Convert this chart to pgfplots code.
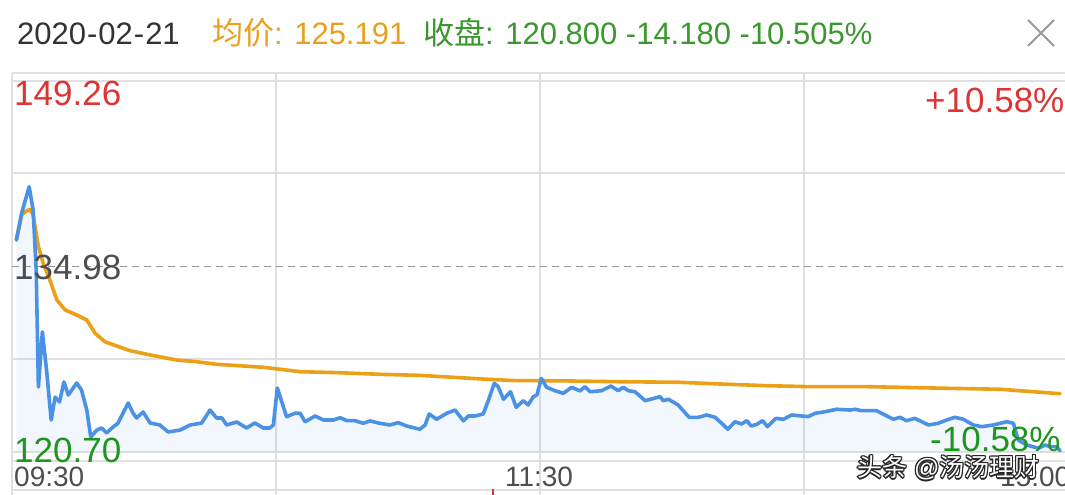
\documentclass[border=0pt]{standalone}
\usepackage{pgfplots}
\pgfplotsset{compat=1.18}
\usepackage{pgfplotstable}
\usepackage{fontspec}
\setmainfont{Liberation Sans}
\newfontfamily\cjk{Noto Sans CJK SC}

\definecolor{priceblue}{RGB}{76,146,228}
\definecolor{avgorange}{RGB}{236,160,22}
\definecolor{gridgray}{RGB}{224,224,224}
\definecolor{upred}{RGB}{222,52,52}
\definecolor{downgreen}{RGB}{28,150,28}
\definecolor{hdrgreen}{RGB}{58,152,46}
\definecolor{hdrorange}{RGB}{232,160,30}
\definecolor{textdark}{RGB}{51,51,51}
\definecolor{midgray}{RGB}{78,78,78}
\definecolor{dashgray}{RGB}{150,150,150}

% minute of the session (0 = 09:30, 120 = 11:30/13:00, 240 = 15:00) and last price
\pgfplotstableread{
m p
1.0 137.02
2.2 139.10
3.9 141.12
4.8 139.33
5.5 134.71
6.0 125.70
6.9 129.94
7.9 126.86
8.9 123.16
9.8 124.93
10.8 124.55
11.8 126.09
12.8 125.09
14.7 126.01
15.8 125.47
17.0 123.93
17.9 121.86
19.3 122.39
20.4 122.55
21.5 122.16
22.7 122.55
24.1 122.93
26.4 124.47
27.5 123.70
28.3 123.32
29.8 123.78
31.4 122.93
33.6 122.78
35.5 122.24
38.2 122.39
40.5 122.78
43.1 122.93
45.0 123.93
46.5 123.32
47.7 123.32
48.8 122.78
51.1 123.01
53.3 122.55
55.2 122.93
57.1 122.55
58.6 122.55
59.4 122.78
60.3 125.63
62.4 123.42
64.3 123.68
65.5 123.68
66.6 123.03
68.9 123.47
70.8 123.16
73.0 123.16
74.6 123.34
76.1 123.11
78.0 123.11
79.8 122.91
81.4 123.09
83.6 122.91
85.9 122.78
87.8 122.96
89.7 122.70
92.7 122.45
93.9 122.78
94.8 123.63
96.5 123.22
98.8 123.68
100.7 123.93
102.6 123.09
103.7 123.47
105.2 123.47
107.1 123.63
108.3 124.70
109.6 125.99
110.5 125.73
111.7 124.76
113.3 125.34
114.6 124.14
116.2 124.65
117.3 124.32
118.5 124.96
119.3 125.09
120.3 126.37
121.5 125.68
123.4 125.42
125.3 125.22
127.2 125.68
129.1 125.40
130.2 125.73
131.4 125.34
134.0 125.42
136.1 125.78
137.8 125.42
138.9 125.68
140.1 125.42
141.6 125.34
143.9 124.65
147.3 124.96
148.0 124.65
149.2 124.76
151.4 124.32
153.9 123.37
156.0 123.37
157.9 123.55
159.8 123.37
161.3 122.91
162.7 122.45
164.3 123.03
165.8 122.86
167.0 123.11
168.0 122.70
169.3 122.83
170.6 123.11
171.7 122.65
173.6 123.29
175.3 123.22
177.2 123.55
179.5 123.47
181.0 123.42
182.5 123.68
184.8 123.80
187.4 123.99
190.5 123.93
191.6 123.99
193.1 123.88
196.5 123.88
198.4 123.55
200.3 123.22
201.8 123.37
203.3 123.11
205.2 123.29
208.3 122.78
210.5 122.91
212.4 123.16
214.3 123.37
216.2 123.22
218.5 122.78
220.4 122.65
223.0 122.78
226.1 123.03
227.6 122.91
228.7 121.62
230.6 121.24
233.3 120.99
234.8 121.24
235.9 121.11
237.4 121.11
238.2 120.80
}\price

% running average price
\pgfplotstableread{
m p
1.0 137.02
2.2 138.94
3.0 139.20
4.1 139.38
4.8 138.94
6.0 136.50
7.1 135.23
8.6 133.94
10.2 132.40
12.1 131.63
14.7 131.25
17.0 130.86
18.9 129.84
21.1 129.19
23.8 128.86
26.8 128.50
31.4 128.17
37.4 127.78
42.0 127.65
46.5 127.45
52.6 127.32
57.1 127.22
60.9 127.07
65.5 126.88
73.8 126.81
83.6 126.68
92.7 126.60
100.3 126.45
107.9 126.30
114.7 126.19
120.0 126.19
126.4 126.17
137.8 126.11
151.4 126.07
160.5 125.94
171.9 125.80
181.4 125.73
194.3 125.73
213.2 125.60
224.6 125.53
232.1 125.34
238.2 125.19
}\avg

\newcommand{\wmark}{{\cjk 头条} @{\cjk 汤汤理财}}

\begin{document}
\begin{tikzpicture}[x=1pt,y=1pt]
\useasboundingbox (0,0) rectangle (1065,495);
\clip (0,0) rectangle (1065,495);
\fill[white] (0,0) rectangle (1065,495);

% header
\node[anchor=base west, inner sep=0, text=textdark, font=\fontsize{31}{36}\selectfont] at (17,450) {2020\kern1pt-\kern1pt02\kern1pt-\kern1pt21};
\node[anchor=base west, inner sep=0, text=hdrorange, font=\fontsize{31}{36}\selectfont] at (212,450) {{\cjk 均价}: 125.191};
\node[anchor=base west, inner sep=0, text=hdrgreen, font=\fontsize{31}{36}\selectfont] at (423,450) {{\cjk 收盘}: 120.800 -14.180 -10.505\%};
\draw[gray!80, line width=2pt] (1028,475) -- (1054,449) (1028,449) -- (1054,475);

% frame and grid
\begin{scope}[gridgray, line width=1.6pt]
  \draw (12,422) -- (1065,422);
  \draw (12,34) -- (1065,34);
  \draw (12,5) -- (1065,5);
  \draw (12,0) -- (12,422);
  \foreach \gx in {276,540,804} \draw (\gx,0) -- (\gx,422);
  \foreach \gy in {414,322,136,43} \draw (12,\gy) -- (1065,\gy);
\end{scope}
\draw[upred, line width=2pt] (493,0) -- (493,6);

\begin{axis}[at={(12pt,43pt)}, anchor=south west, scale only axis,
  width=1056pt, height=371pt,
  xmin=0, xmax=240, ymin=120.70, ymax=149.26,
  hide axis, clip=true]
  \addplot[draw=none, fill=priceblue, fill opacity=0.07] table[x=m, y=p] {\price} \closedcycle;
  \draw[dashgray, line width=1.5pt, dash pattern=on 7pt off 5pt] (axis cs:0,134.98) -- (axis cs:240,134.98);
  \addplot[avgorange, line width=3.6pt, line join=round, line cap=round] table[x=m, y=p] {\avg};
  \addplot[priceblue, line width=3.6pt, line join=round, line cap=round] table[x=m, y=p] {\price};
\end{axis}

% price scale labels
\begin{scope}[every node/.style={anchor=base west, inner sep=0, font=\fontsize{35}{40}\selectfont}]
  \node[text=upred] at (14,389) {149.26};
  \node[text=upred] at (925,382) {+10.58\%};
  \node[text=midgray] at (14,215) {134.98};
  \node[text=downgreen] at (14,32) {120.70};
  \node[text=downgreen] at (930,43) {-10.58\%};
\end{scope}

% time labels
\begin{scope}[every node/.style={inner sep=0, text=midgray, font=\fontsize{28}{32}\selectfont}]
  \node[anchor=base west] at (14,8) {09:30};
  \node[anchor=base] at (539,8) {11:30};
  \node[anchor=base west] at (1000,8) {15:00};
\end{scope}

% outlined caption
\begin{scope}[every node/.style={anchor=base west, inner sep=0, font=\fontsize{25}{28}\selectfont}]
  \foreach \dx/\dy in {-1.3/0, 1.3/0, 0/-1.3, 0/1.3, -1/-1, 1/1, -1/1, 1/-1}
    \node[text=black!85] at (857+\dx,18+\dy) {\wmark};
  \node[text=white] at (857,18) {\wmark};
\end{scope}
\end{tikzpicture}
\end{document}
